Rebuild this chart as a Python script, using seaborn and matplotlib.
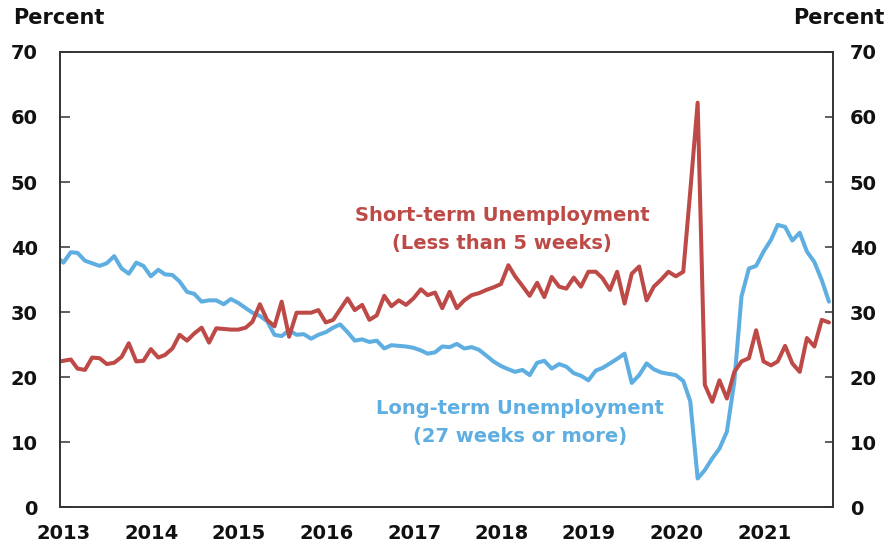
import matplotlib
matplotlib.use("Agg")
import matplotlib.pyplot as plt
import matplotlib.transforms as mtransforms
import numpy as np
import pandas as pd
import seaborn as sns

# monthly shares of the unemployed, Dec 2012 .. Oct 2021 (percent)
short_term = [
    22.3,
    22.5, 22.7, 21.3, 21.1, 23.0, 22.9, 22.0, 22.2, 23.1, 25.2, 22.4, 22.5,  # 2013
    24.3, 23.0, 23.4, 24.4, 26.5, 25.6, 26.7, 27.6, 25.3, 27.5, 27.4, 27.3,  # 2014
    27.3, 27.6, 28.5, 31.2, 28.8, 27.8, 31.6, 26.2, 29.9, 29.9, 29.9, 30.3,  # 2015
    28.4, 28.8, 30.4, 32.1, 30.3, 31.1, 28.8, 29.5, 32.5, 30.9, 31.8, 31.1,  # 2016
    32.1, 33.5, 32.6, 33.0, 30.6, 33.1, 30.6, 31.8, 32.6, 32.9, 33.4, 33.8,  # 2017
    34.3, 37.2, 35.5, 34.0, 32.5, 34.5, 32.3, 35.4, 33.9, 33.6, 35.3, 33.9,  # 2018
    36.2, 36.2, 35.2, 33.4, 36.2, 31.3, 35.9, 37.0, 31.8, 33.9, 35.0, 36.2,  # 2019
    35.5, 36.2, 48.5, 62.2, 18.8, 16.2, 19.5, 16.7, 20.8, 22.4, 22.9, 27.2,  # 2020
    22.4, 21.8, 22.4, 24.8, 22.1, 20.8, 26.0, 24.7, 28.8, 28.4,              # 2021
]
long_term = [
    38.6,
    37.6, 39.2, 39.1, 37.9, 37.5, 37.1, 37.5, 38.6, 36.7, 35.9, 37.6, 37.1,  # 2013
    35.5, 36.5, 35.8, 35.7, 34.7, 33.1, 32.8, 31.6, 31.8, 31.8, 31.2, 32.0,  # 2014
    31.4, 30.6, 29.9, 29.4, 28.6, 26.5, 26.3, 27.2, 26.5, 26.6, 25.9, 26.5,  # 2015
    26.9, 27.6, 28.1, 26.9, 25.6, 25.8, 25.4, 25.6, 24.4, 24.9, 24.8, 24.7,  # 2016
    24.5, 24.1, 23.6, 23.8, 24.7, 24.6, 25.1, 24.4, 24.6, 24.2, 23.3, 22.4,  # 2017
    21.7, 21.2, 20.8, 21.1, 20.3, 22.2, 22.5, 21.3, 22.0, 21.6, 20.6, 20.2,  # 2018
    19.5, 21.0, 21.4, 22.1, 22.8, 23.6, 19.1, 20.3, 22.1, 21.2, 20.7, 20.5,  # 2019
    20.3, 19.4, 16.3, 4.4, 5.7, 7.5, 9.0, 11.6, 19.3, 32.4, 36.7, 37.1,     # 2020
    39.3, 41.1, 43.4, 43.1, 41.0, 42.2, 39.3, 37.7, 34.9, 31.6,              # 2021
]
years = list(range(2013, 2022))
y_ticks = [0, 10, 20, 30, 40, 50, 60, 70]

red = "#BD4A47"
blue = "#5EAEE1"
ink = "#111111"

dates = pd.date_range("2012-12-01", periods=len(short_term), freq="MS") + pd.Timedelta(days=14)
df = pd.DataFrame({"date": dates, "short": short_term, "long": long_term})

sns.set_style("white")
plt.rcParams["font.family"] = ["DejaVu Sans"]
plt.rcParams["font.weight"] = "bold"

fig = plt.figure(figsize=(8.88, 5.5), dpi=100)
ax = fig.add_axes([0.0676, 0.078, 0.8705, 0.8275])

sns.lineplot(data=df, x="date", y="long", color=blue, linewidth=2.9, ax=ax)
sns.lineplot(data=df, x="date", y="short", color=red, linewidth=2.9, ax=ax)

ax.set_xlim(pd.Timestamp("2013-01-01"), pd.Timestamp("2021-11-01"))
ax.set_ylim(0, 70)
ax.set_xlabel("")
ax.set_ylabel("")
ax.set_xticks([pd.Timestamp(f"{y}-01-01") for y in years])
ax.set_xticklabels([str(y) for y in years])
ax.set_yticks(y_ticks)

for s in ax.spines.values():
    s.set_visible(True)
    s.set_color("#333333")
    s.set_linewidth(1.2)

ax.tick_params(axis="x", direction="in", length=8, width=1.1, color="#333333",
               pad=12, labelsize=14, labelcolor=ink)
ax.tick_params(axis="y", direction="in", length=7, width=1.1, color="#333333",
               pad=16, labelsize=14, labelcolor=ink)
nudge = mtransforms.ScaledTranslation(4 / 100, 0, fig.dpi_scale_trans)
for lab in ax.get_xticklabels():
    lab.set_fontweight("bold")
    lab.set_transform(lab.get_transform() + nudge)
for lab in ax.get_yticklabels():
    lab.set_fontweight("bold")

ax2 = ax.twinx()
ax2.set_ylim(0, 70)
ax2.set_yticks(y_ticks)
ax2.tick_params(axis="y", direction="in", length=6, width=1.1, color="#333333",
                pad=12, labelsize=14, labelcolor=ink)
for lab in ax2.get_yticklabels():
    lab.set_fontweight("bold")
for s in ax2.spines.values():
    s.set_color("#333333")
    s.set_linewidth(1.2)

fig.text(0.015, 0.967, "Percent", fontsize=15, fontweight="bold", color=ink, va="center", ha="left")
fig.text(0.996, 0.967, "Percent", fontsize=15, fontweight="bold", color=ink, va="center", ha="right")

ax.text(pd.Timestamp("2018-01-20"), 44.8, "Short-term Unemployment", color=red,
        fontsize=14, fontweight="bold", ha="center", va="center")
ax.text(pd.Timestamp("2018-01-20"), 40.5, "(Less than 5 weeks)", color=red,
        fontsize=14, fontweight="bold", ha="center", va="center")
ax.text(pd.Timestamp("2018-04-05"), 15.1, "Long-term Unemployment", color=blue,
        fontsize=14, fontweight="bold", ha="center", va="center")
ax.text(pd.Timestamp("2018-04-05"), 10.8, "(27 weeks or more)", color=blue,
        fontsize=14, fontweight="bold", ha="center", va="center")

fig.savefig("out.png", dpi=100)
